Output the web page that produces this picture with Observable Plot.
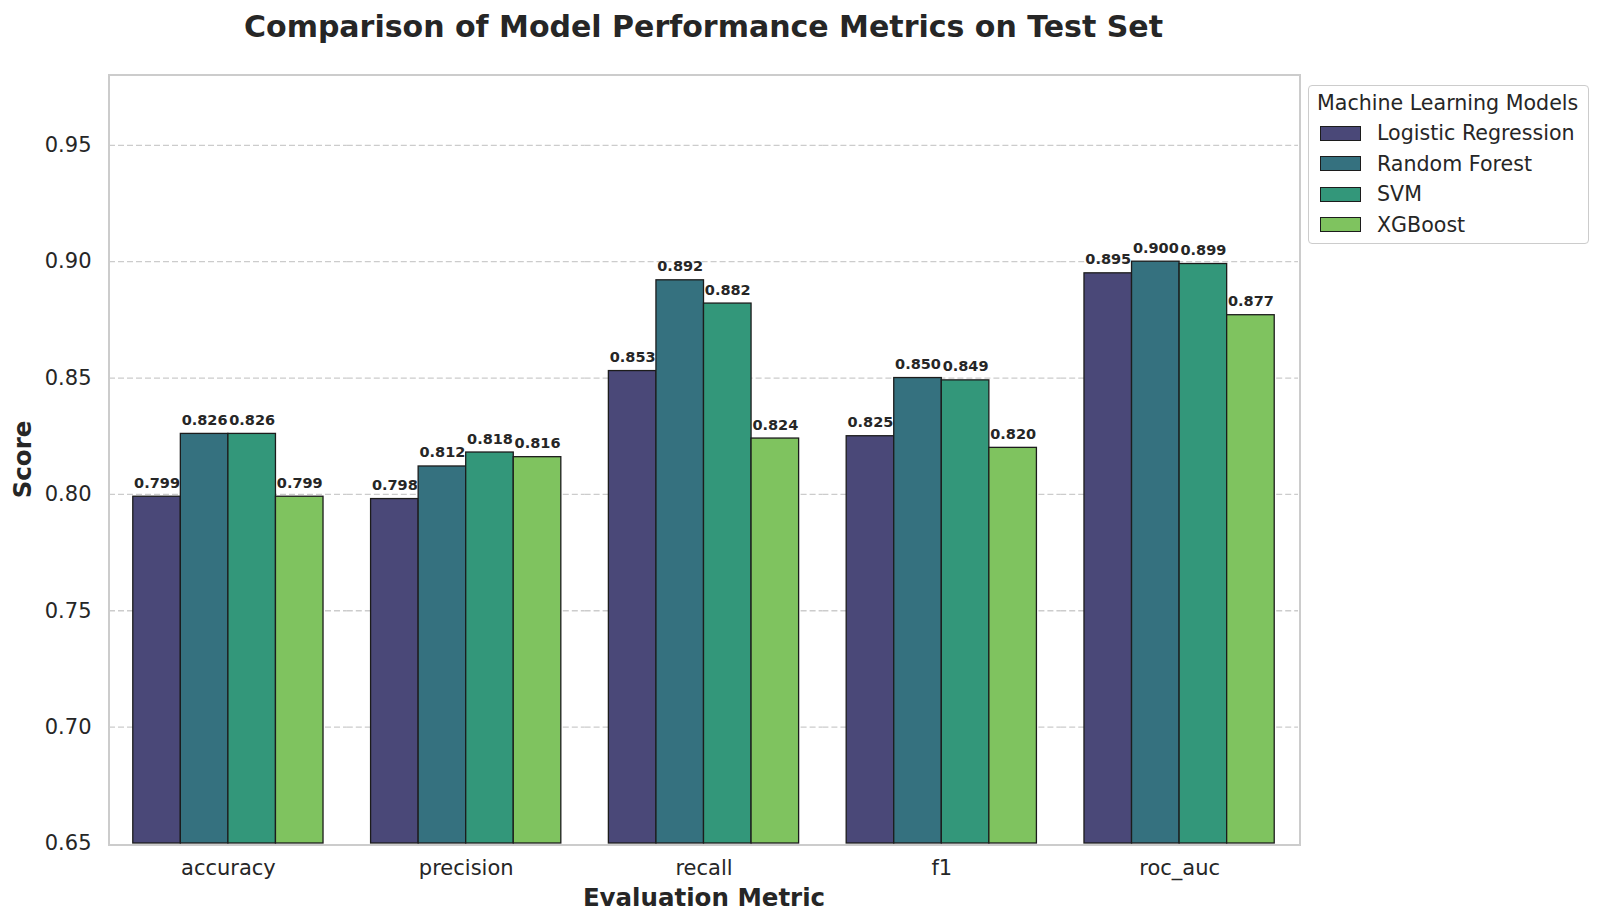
<!DOCTYPE html>
<html>
<head>
<meta charset="utf-8">
<script src="https://cdn.jsdelivr.net/npm/d3@7"></script>
<script src="https://cdn.jsdelivr.net/npm/@observablehq/plot@0.6"></script>
<style>
  html, body { margin: 0; padding: 0; background: white; }
  body { width: 1600px; height: 924px; position: relative; overflow: hidden; font-family: "DejaVu Sans", sans-serif; color: #262626; }
  #title { position: absolute; left: 109px; width: 1189px; top: 0; height: 60px; line-height: 54px; text-align: center; font-size: 30px; font-weight: bold; color: #262626; }
  #chart { position: absolute; left: 0; top: 60px; }
  #frame { position: absolute; left: 108px; top: 74px; width: 1189px; height: 768px; border: 2px solid #cccccc; pointer-events: none; }
  #legend { position: absolute; left: 1308px; top: 85px; width: 279px; height: 157px; border: 1.5px solid #cccccc; border-radius: 4px; background: white; font-size: 20.6px; color: #262626; }
  #legend .lt { position: absolute; left: 8px; top: 5px; white-space: nowrap; }
  #legend .row { position: absolute; left: 11px; height: 24px; display: flex; align-items: center; white-space: nowrap; }
  #legend .sw { width: 41px; height: 15px; border: 1.2px solid #1c1c1c; box-sizing: border-box; margin-right: 16px; }
  svg g[aria-label="y-axis label"] text, svg g[aria-label="fx-axis label"] text { font-weight: bold; font-size: 24.5px; }
</style>
</head>
<body>
<div id="title">Comparison of Model Performance Metrics on Test Set</div>
<div id="chart"></div>
<div id="frame"></div>
<div id="legend"></div>
<script>
const metrics = ["accuracy", "precision", "recall", "f1", "roc_auc"];
const models = ["Logistic Regression", "Random Forest", "SVM", "XGBoost"];
const colors = ["#4a4878", "#35717f", "#33977a", "#7fc35f"];
const logisticRegression = [0.799, 0.798, 0.853, 0.825, 0.895];
const randomForest = [0.826, 0.812, 0.892, 0.850, 0.900];
const svm = [0.826, 0.818, 0.882, 0.849, 0.899];
const xgboost = [0.799, 0.816, 0.824, 0.820, 0.877];
const yTicks = [0.65, 0.70, 0.75, 0.80, 0.85, 0.90, 0.95];
const gridTicks = [0.70, 0.75, 0.80, 0.85, 0.90, 0.95];
const yDomain = [0.65, 0.98];

const series = [logisticRegression, randomForest, svm, xgboost];
const data = [];
metrics.forEach((m, i) => {
  models.forEach((mod, j) => {
    data.push({metric: m, model: mod, value: series[j][i]});
  });
});

const chart = Plot.plot({
  width: 1600,
  height: 864,
  marginTop: 15,
  marginBottom: 81,
  marginLeft: 109,
  marginRight: 302,
  style: {fontFamily: "DejaVu Sans", fontSize: "21px", color: "#262626", background: "white"},
  fx: {domain: metrics, padding: 0, round: false, axis: "bottom", label: "Evaluation Metric", labelAnchor: "center", labelOffset: 62, tickSize: 0, tickPadding: 17, labelArrow: "none"},
  x: {domain: models, paddingInner: 0, paddingOuter: 0.5, round: false, axis: null},
  y: {domain: yDomain, ticks: yTicks, tickFormat: ".2f", label: "Score", labelAnchor: "center", labelOffset: 96, tickSize: 0, tickPadding: 18, labelArrow: "none"},
  color: {domain: models, range: colors},
  marks: [
    Plot.gridY(gridTicks, {stroke: "#cccccc", strokeOpacity: 1, strokeWidth: 1.3, strokeDasharray: "6,3"}),
    Plot.barY(data, {fx: "metric", x: "model", y1: yDomain[0], y2: "value", fill: "model", stroke: "#1c1c1c", strokeWidth: 1.3}),
    Plot.text(data, {fx: "metric", x: "model", y: "value", text: d => d.value.toFixed(3), lineAnchor: "bottom", dy: -9, fontWeight: "bold", fontSize: 14.5, fill: "#262626"})
  ]
});
document.getElementById("chart").appendChild(chart);

const legend = document.getElementById("legend");
const lt = document.createElement("div");
lt.className = "lt";
lt.textContent = "Machine Learning Models";
legend.appendChild(lt);
models.forEach((m, j) => {
  const row = document.createElement("div");
  row.className = "row";
  row.style.top = (35 + j * 30.5) + "px";
  const sw = document.createElement("div");
  sw.className = "sw";
  sw.style.background = colors[j];
  const lab = document.createElement("span");
  lab.textContent = m;
  row.appendChild(sw);
  row.appendChild(lab);
  legend.appendChild(row);
});
</script>
</body>
</html>
